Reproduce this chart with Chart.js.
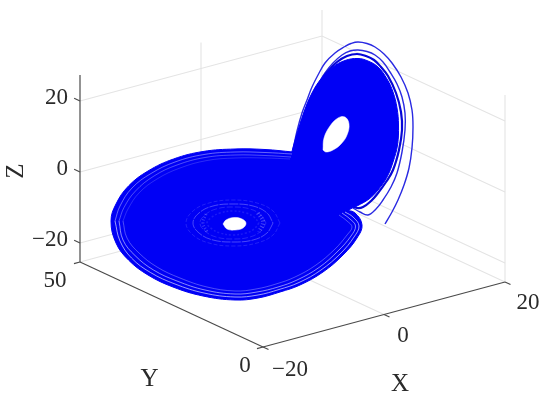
<!DOCTYPE html>
<html><head><meta charset="utf-8">
<style>html,body{margin:0;padding:0;background:#fff}canvas{display:block}</style>
<script src="https://cdn.jsdelivr.net/npm/chart.js@4"></script>
</head><body><canvas id="c" width="550" height="402"></canvas>
<script>
// axis values
const xTicks=[-20,0,20], yTicks=[0,50], zTicks=[-20,0,20];
const xTickLabels=['\u221220','0','20'], yTickLabels=['0','50'], zTickLabels=['\u221220','0','20'];
const xLim=[-20,20], yLim=[0,50], zLim=[-25.35,27.3];
// attractor traced in the view plane
const lowerWing=[[293,152],[265,149.5],[235,149],[203,151.5],[173.5,159],[148,171],[128.5,186],[116,204],[111,221],[116,243],[128.5,260],[148,275],[173,287],[203,296],[235,300],[258,298],[280,292],[300,285],[323,272],[343,255],[357,238],[362,225],[355,213],[343,208],[320,175],[293,152]];
const rightWing=[[291,155],[296,137],[304,112],[312,93],[321,79],[333,67],[345,60.5],[358,58.5],[368,61],[378,67],[387,79],[393,92],[397,108],[398.5,125],[397.5,145],[393,162],[387,177],[378,190],[369,199],[357,206],[349,210],[345,216],[320,230],[290,200],[291,155]];
const lowerHole=[[223,224],[226,220],[234,217.5],[242,219],[246,223],[243,228],[235,230],[227,229],[223,224]];
const upperHole=[[323,150],[324,138],[330,126],[338,118],[345,117],[349,124],[347,135],[341,144],[333,150],[326,152],[323,150]];
const outerOrbit=[[385,224],[392,212],[398,200],[404,185],[409,168],[412,148],[413,127],[412,110],[408,93],[401,77],[392,63],[384,54],[375,47],[367,43.5],[358,42],[351,43.5],[345,46.5],[335,53],[325,63],[318,75],[312,87],[307,100],[302,113],[297,131],[293,150]];
const secondOrbit=[[353,208],[360,212],[368,215],[376,209],[383,200],[391,187],[397,173],[402,152],[405,130],[405,113],[402,97],[397,84],[390,72],[383,62],[375,55],[367,51.5],[358,50],[350,51],[342,55],[333,63],[325,73],[316,88],[308,103],[301,123],[295,147]];
const thirdOrbit=[[350,205],[357,208],[363,207],[371,201],[378,193],[386,182],[393,170],[399,150],[402,130],[401,112],[396,93],[388,76],[381,67],[374,60],[366,56],[357,54],[347,56],[337,62],[329,70],[323,77]];
const edgeBandA=[[115,221],[120,241],[131.5,258],[150.5,272.5],[175,284],[204,293],[235,297],[258,295],[279,289.5],[299,282.5],[321,270],[341,253],[354,237],[359,226],[353,217],[345,212]];
const edgeBandB=[[119,221],[123,240],[135,255.5],[153.5,270],[177,281],[205,290],[235,294],[257,292],[278,287],[297,280],[319,267.5],[338,251],[351,236],[355.5,226],[350,219],[342,213]];
const edgeBandC=[[123,221],[127,238],[139,253],[157,267],[180,278],[207,287],[235,291],[256,289],[276,284],[295,277],[316,265],[335,249],[347,235],[352,227],[347,221],[339,215]];
const topBandA=[[115,221],[120,206],[132,188],[151,173.5],[175,162],[204,154.5],[235,152],[265,152.5],[292,154]];
const topBandB=[[119,221],[124,207.5],[135.5,191],[154,176],[177,165],[205,157.5],[235,155],[265,155.5],[291,157]];
const topBandC=[[123,221],[128,209],[139,193],[157,179],[180,168],[207,160.5],[235,158],[265,158],[290,159]];
const ringA=[[280,223],[273,235],[257,243],[233,246],[209,243],[193,235],[186,223],[193,211],[209,203],[233,200],[257,203],[273,211],[280,223]];
const ringB=[[273,223],[267,233],[253,240],[233,242],[213,240],[199,233],[193,223],[199,213],[213,206],[233,204],[253,206],[267,213],[273,223]];
const ringC=[[266,223],[261,231],[250,237],[233,239],[216,237],[205,231],[200,223],[205,215],[216,209],[233,207],[250,209],[261,215],[266,223]];
const ringD=[[259,223],[254,229],[246,233],[233,235],[220,233],[212,229],[207,223],[212,217],[220,213],[233,211],[246,213],[254,217],[259,223]];
const speckLeft=[[206,214],[203,223],[207,232]];
const speckRight=[[258,213],[263,222],[259,232]];

function proj(X,Y,Z){return {x:263+6.05*(X+20)-3.66*Y, y:347-1.625*(X+20)-1.7*Y-3.55*(Z-zLim[0])};}
const pts=a=>a.map(p=>({x:p[0],y:p[1]}));
const ds=[];
function add(data,color,width,fill,tension=0.4,dash=[]){ds.push({data,borderColor:color,backgroundColor:fill||'transparent',borderWidth:width,borderDash:dash,fill:fill?'shape':false,tension,showLine:true,pointRadius:0,order:-ds.length});}
const gridCol='#e4e4e4', axisCol='#4a4a4a';
// grid
for(const z of zTicks) add([proj(xLim[0],yLim[1],z),proj(xLim[1],yLim[1],z),proj(xLim[1],yLim[0],z)],gridCol,1.1,null,0);
add([proj(0,yLim[0],zLim[0]),proj(0,yLim[1],zLim[0]),proj(0,yLim[1],zLim[1])],gridCol,1.1,null,0);
add([proj(xLim[1],yLim[0],zLim[0]),proj(xLim[1],yLim[1],zLim[0]),proj(xLim[1],yLim[1],zLim[1])],gridCol,1.1,null,0);
add([proj(xLim[0],yLim[1],zLim[0]),proj(xLim[1],yLim[1],zLim[0])],gridCol,1.1,null,0);
add([proj(xLim[1],yLim[0],zLim[0]),proj(xLim[1],yLim[0],zLim[1])],gridCol,1.1,null,0);
// axes
add([proj(xLim[0],yLim[1],zLim[0]),proj(xLim[0],yLim[1],zLim[1])],axisCol,1.2,null,0);
add([proj(xLim[0],yLim[0],zLim[0]),proj(xLim[0],yLim[1],zLim[0])],axisCol,1.2,null,0);
add([proj(xLim[0],yLim[0],zLim[0]),proj(xLim[1],yLim[0],zLim[0])],axisCol,1.2,null,0);
for(const z of zTicks) add([proj(xLim[0],yLim[1],z),proj(xLim[0],yLim[1]+1.6,z)],axisCol,1.2,null,0);
for(const y of yTicks) add([proj(xLim[0],y,zLim[0]),proj(xLim[0]-1,y,zLim[0])],axisCol,1.2,null,0);
for(const x of xTicks) add([proj(x,yLim[0],zLim[0]),proj(x,yLim[0]-1.5,zLim[0])],axisCol,1.2,null,0);
// attractor
const blue='#0000f5', line='#2a2ae2';
add(pts(outerOrbit),line,1.4);
add(pts(secondOrbit),line,1.4);
add(pts(thirdOrbit),'#0606d8',2.2);
add(pts(rightWing),blue,1,blue);
add(pts(lowerWing),blue,1,blue);
add(pts(upperHole),'#ffffff',0.5,'#ffffff');
add(pts(lowerHole),'#ffffff',0.5,'#ffffff');
add(pts(edgeBandA),'rgba(215,215,255,.8)',0.9);
add(pts(edgeBandB),'rgba(215,215,255,.7)',0.9);
add(pts(edgeBandC),'rgba(215,215,255,.4)',0.9);
add(pts(topBandA),'rgba(215,215,255,.6)',0.8);
add(pts(topBandB),'rgba(215,215,255,.45)',0.8);
add(pts(topBandC),'rgba(215,215,255,.25)',0.8);
add(pts(ringA),'rgba(190,190,255,.22)',0.8,null,0.4,[4,2]);
add(pts(ringB),'rgba(190,190,255,.42)',0.9,null,0.4,[9,1]);
add(pts(ringC),'rgba(190,190,255,.22)',0.9,null,0.4,[6,2]);
add(pts(ringD),'rgba(190,190,255,.14)',1.5,null,0.4,[2,2]);
add(pts(speckLeft),'rgba(190,190,255,.3)',3,null,0.4,[1,2]);
add(pts(speckRight),'rgba(190,190,255,.4)',4,null,0.4,[1,2]);

const textPlugin={id:'axisText',afterDraw(ch){
  const c=ch.ctx,sx=ch.scales.x,sy=ch.scales.y;
  const put=(t,p,dx,dy,align,font,rot)=>{c.save();c.fillStyle='#2a2a2a';c.font=font;c.textAlign=align;c.textBaseline='middle';
    c.translate(sx.getPixelForValue(p.x)+dx,sy.getPixelForValue(p.y)+dy);if(rot)c.rotate(rot);c.fillText(t,0,0);c.restore();};
  const tf='23px "Liberation Serif"',lf='25px "Liberation Serif"';
  zTicks.forEach((z,i)=>put(zTickLabels[i],proj(xLim[0],yLim[1],z),-12,-3,'right',tf));
  yTicks.forEach((y,i)=>put(yTickLabels[i],proj(xLim[0],y,zLim[0]),y?-25:-18,y?19:19,'center',tf));
  xTicks.forEach((x,i)=>put(xTickLabels[i],proj(x,yLim[0],zLim[0]),[27,19,23][i],[23,21,21][i],'center',tf));
  put('X',proj(0,yLim[0],zLim[0]),16,70,'center',lf);
  put('Y',proj(-20,25,zLim[0]),-22,75,'center',lf);
  put('Z',proj(-20,50,0),-64,-1,'center',lf,-Math.PI/2);
}};
new Chart(document.getElementById('c'),{type:'scatter',data:{datasets:ds},plugins:[textPlugin],options:{
  responsive:false,animation:false,layout:{padding:0},events:[],
  plugins:{legend:{display:false},tooltip:{enabled:false},title:{display:false}},
  scales:{x:{type:'linear',min:0,max:550,display:false},y:{type:'linear',min:0,max:402,reverse:true,display:false}}
}});
</script></body></html>
